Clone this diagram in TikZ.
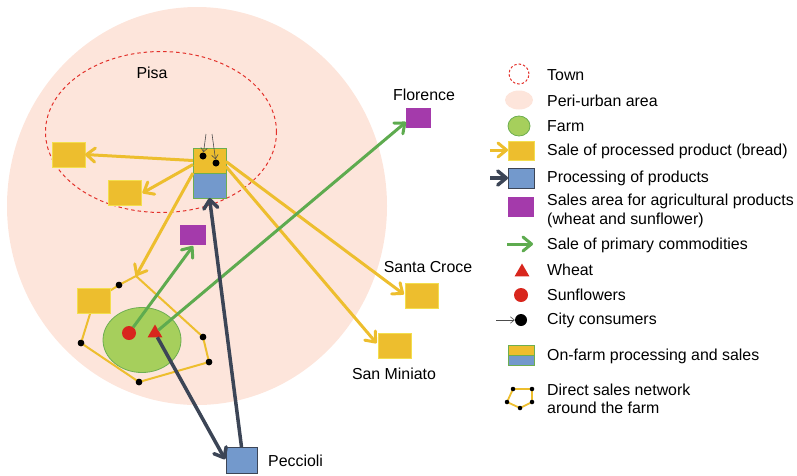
\documentclass[tikz,border=0pt]{standalone}
\usepackage{fontspec}
\setmainfont{Liberation Sans}
\usetikzlibrary{shapes.geometric,arrows.meta}

\definecolor{peri}{HTML}{FDE5DB}
\definecolor{bread}{HTML}{EDBE2E}
\definecolor{breadedge}{HTML}{F3DE4E}
\definecolor{proc}{HTML}{7399CC}
\definecolor{dark}{HTML}{3C4556}
\definecolor{cropred}{HTML}{D8261D}
\definecolor{purp}{HTML}{A43AAB}
\definecolor{farmgreen}{HTML}{A6CF5C}
\definecolor{farmedge}{HTML}{6DAE50}
\definecolor{arrowgreen}{HTML}{5EAB4F}
\definecolor{townred}{HTML}{E3312B}

\begin{document}
\begin{tikzpicture}[x=1pt,y=-1pt,
  font=\fontsize{15.9}{18.5}\selectfont,
  box/.style={rectangle, inner sep=0pt, outer sep=0pt, minimum width=33pt, minimum height=25pt},
  breadbox/.style={box, fill=bread, draw=breadedge, line width=1pt},
  procbox/.style={box, fill=proc, draw=dark, line width=1pt},
  purplebox/.style={box, fill=purp, minimum width=26pt, minimum height=20pt},
  label/.style={inner sep=0pt},
  legtext/.style={inner sep=0pt, anchor=west, align=left},
  tip/.style={-{Straight Barb[length=8.5pt,width=14pt,round]}},
  breadarrow/.style={draw=bread, line width=3pt, tip},
  greenarrow/.style={draw=arrowgreen, line width=3pt, tip},
  darkarrow/.style={draw=dark, line width=3.5pt, tip},
  network/.style={draw=bread, line width=2pt, line join=round},
  thinarrow/.style={draw=black!70, line width=0.6pt, -{Straight Barb[length=4pt,width=6.5pt]}},
  consumer/.style={circle, fill=black, inner sep=0pt, minimum size=7pt},
  netdot/.style={circle, fill=black, inner sep=0pt, minimum size=6.5pt},
  crop/.style={fill=cropred, inner sep=0pt, outer sep=0pt},
]
\useasboundingbox (0,0) rectangle (797,475);

% peri-urban area and town limits
\node[ellipse, fill=peri, minimum width=380pt, minimum height=398pt, inner sep=0pt] (peri) at (197,206) {};
\node[ellipse, draw=townred, line width=1pt, dash pattern=on 3.5pt off 3pt,
      minimum width=231pt, minimum height=161pt, inner sep=0pt] (town) at (161,132) {};
\node[label] (pisa) at (152,73) {Pisa};

% direct sales network around the farm
\coordinate (n0) at (136,276);
\node[netdot] (n1) at (119,285) {};
\node[netdot] (n2) at (81,343) {};
\node[netdot] (n3) at (139,382) {};
\node[netdot] (n4) at (209,362) {};
\node[netdot] (n5) at (203,337) {};
\coordinate (n6) at (94,301);
\draw[network] (n0) -- (n1.center) -- (n6) -- (n2.center) -- (n3.center) -- (n4.center) -- (n5.center) -- cycle;
\foreach \d in {n1,n2,n3,n4,n5} \node[netdot] at (\d) {};

% farm
\node[ellipse, fill=farmgreen, draw=farmedge, line width=0.8pt,
      minimum width=78pt, minimum height=65pt, inner sep=0pt] (farm) at (142,340) {};
\node[crop, circle, minimum size=14pt] (sun) at (129,333) {};
\node[crop, regular polygon, regular polygon sides=3, minimum size=17pt] (wheat) at (155,333) {};

% sales points
\node[breadbox] (bread1) at (68.5,154.5) {};
\node[breadbox] (bread2) at (125,193) {};
\node[breadbox] (bread3) at (94,301) {};
\node[breadbox] (santacroce) at (422,295.5) {};
\node[breadbox] (sanminiato) at (395,345.5) {};
\node[purplebox] (agri) at (193,235) {};
\node[purplebox, minimum width=25pt] (florence) at (418.5,118) {};
\node[procbox, minimum width=31pt, minimum height=26pt] (peccioli) at (241.5,460) {};

% on-farm processing and sales point
\node[box, fill=bread, draw=farmedge, line width=0.8pt] (onsale) at (209.5,160.5) {};
\node[box, fill=proc, draw=farmedge, line width=0.8pt] (onproc) at (209.5,185.5) {};

% city consumers
\node[consumer] (c1) at (203,156) {};
\node[consumer] (c2) at (216,163) {};
\coordinate (c1src) at (206,134);
\coordinate (c2src) at (212,134);
\draw[thinarrow] (c1src) -- (c1);
\draw[thinarrow] (c2src) -- (c2);

% place names
\node[label] (lflorence) at (424,95) {Florence};
\node[label] (lsanta) at (428,267) {Santa Croce};
\node[label] (lsanmin) at (394,374) {San Miniato};
\node[label, anchor=west] (lpecc) at (268,461) {Peccioli};

% sale of processed product
\draw[breadarrow] (onsale.west) -- (bread1.east);
\draw[breadarrow] ([yshift=-4pt]onsale.west) -- ([xshift=1pt]bread2.east);
\draw[breadarrow] (onsale.south west) -- (n0);
\draw[breadarrow, shorten >=2pt] ([yshift=-1pt]onsale.east) -- (santacroce.west);
\draw[breadarrow, shorten >=3pt] ([yshift=-6pt]onsale.east) -- (sanminiato.west);

% sale of primary commodities
\draw[greenarrow] (sun) -- ([yshift=-1pt]agri.south);
\draw[greenarrow] (wheat) -- ([yshift=-4pt]florence.west);

% processing of products
\draw[darkarrow] (peccioli.north) -- (onproc.south);
\draw[darkarrow, shorten >=2pt] (wheat) -- ([yshift=-1pt]peccioli.west);

% ---------------- legend ----------------
\node[circle, draw=townred, line width=1pt, dash pattern=on 2.5pt off 2pt,
      minimum size=20pt, inner sep=0pt] (kTown) at (519,74) {};
\node[legtext] (tTown) at (547,75) {Town};

\node[ellipse, fill=peri, minimum width=28pt, minimum height=19pt, inner sep=0pt] (kPeri) at (519,100) {};
\node[legtext] (tPeri) at (547,101) {Peri-urban area};

\node[ellipse, fill=farmgreen, draw=farmedge, line width=0.8pt,
      minimum width=22pt, minimum height=20pt, inner sep=0pt] (kFarm) at (519,126) {};
\node[legtext] (tFarm) at (547,126) {Farm};

\node[breadbox, minimum width=26pt, minimum height=19pt] (kBread) at (521,151) {};
\coordinate (kBreadSrc) at (490,150);
\draw[breadarrow] (kBreadSrc) -- (kBread.west |- kBreadSrc);
\node[legtext] (tBread) at (547,151) {Sale of processed product (bread)};

\node[procbox, minimum width=26pt, minimum height=20pt] (kProc) at (521,178) {};
\coordinate (kProcSrc) at (490,178);
\draw[darkarrow] (kProcSrc) -- (kProc.west);
\node[legtext] (tProc) at (547,178) {Processing of products};

\node[purplebox, minimum width=26pt, minimum height=20pt] (kAgri) at (521,207) {};
\node[legtext] (tAgri) at (547,211) {Sales area for agricultural products\\(wheat and sunflower)};

\coordinate (kGreenA) at (507,244);
\coordinate (kGreenB) at (533,244);
\draw[greenarrow] (kGreenA) -- (kGreenB);
\node[legtext] (tGreen) at (547,245) {Sale of primary commodities};

\node[crop, regular polygon, regular polygon sides=3, minimum size=17pt] (kWheat) at (522,272) {};
\node[legtext] (tWheat) at (547,270) {Wheat};

\node[crop, circle, minimum size=14pt] (kSun) at (521,295) {};
\node[legtext] (tSun) at (547,295) {Sunflowers};

\node[consumer, minimum size=12pt] (kCons) at (521,320) {};
\coordinate (kConsSrc) at (496,320);
\draw[thinarrow] (kConsSrc) -- (kCons.west);
\node[legtext] (tCons) at (547,320) {City consumers};

\node[box, fill=bread, draw=farmedge, line width=0.8pt, minimum width=26pt, minimum height=10pt] (kOnSale) at (521,350) {};
\node[box, fill=proc, draw=farmedge, line width=0.8pt, minimum width=26pt, minimum height=10pt] (kOnProc) at (521,360) {};
\node[legtext] (tOn) at (547,356) {On-farm processing and sales};

\node[netdot, minimum size=4pt] (k1) at (513,389) {};
\node[netdot, minimum size=4pt] (k2) at (532,389) {};
\node[netdot, minimum size=4pt] (k3) at (532,402) {};
\node[netdot, minimum size=4pt] (k4) at (520,408) {};
\node[netdot, minimum size=4pt] (k5) at (507,402) {};
\draw[network, line width=1.8pt] (k1.center) -- (k2.center) -- (k3.center) -- (k4.center) -- (k5.center) -- cycle;
\foreach \d in {k1,k2,k3,k4,k5} \node[netdot, minimum size=4.5pt] at (\d) {};
\node[legtext] (tNet) at (547,399) {Direct sales network\\around the farm};
\end{tikzpicture}
\end{document}
